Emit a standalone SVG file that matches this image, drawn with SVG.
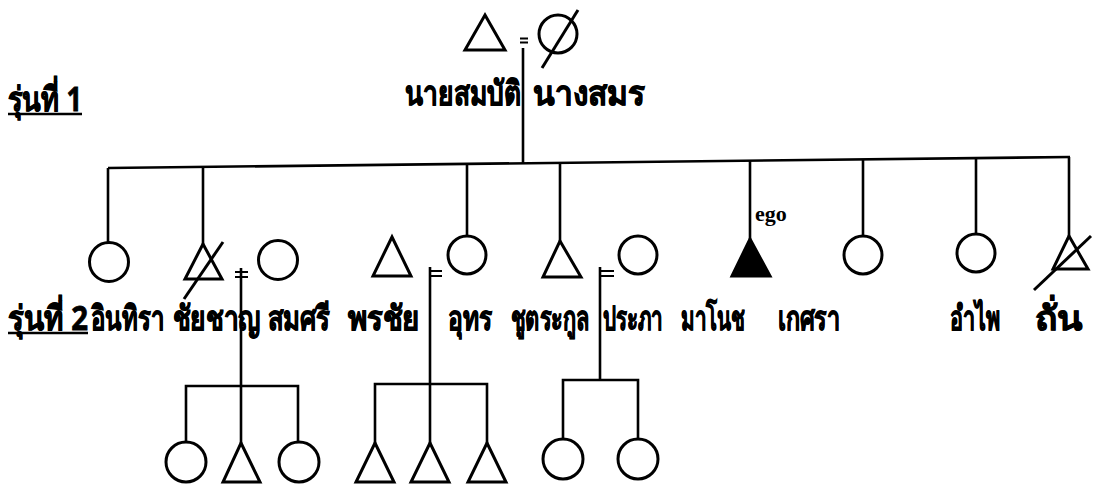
<svg xmlns="http://www.w3.org/2000/svg" width="1093" height="487" viewBox="0 0 1093 487">
<style>
.s{fill:none;stroke:#000;stroke-width:3;stroke-linecap:butt;stroke-linejoin:miter}
.l{fill:none;stroke:#000;stroke-width:2.6}
.m{stroke:#000;stroke-width:2}
.f{fill:#000;stroke:#000;stroke-width:3}
.t{font-family:"Noto Sans","DejaVu Sans",sans-serif;font-weight:bold;font-size:26px;fill:#000;stroke:#000;stroke-width:0.6}
.e{font-family:"Liberation Serif",serif;font-weight:bold;font-size:22px;fill:#000}
</style>
<rect width="1093" height="487" fill="#fff"/>
<g id="connectors">
<line class="l" x1="108" y1="168" x2="1070" y2="157"/>
<line class="l" x1="523" y1="48" x2="523" y2="163"/>
<line class="m" x1="520" y1="38.5" x2="528" y2="38.5"/>
<line class="m" x1="520" y1="42.5" x2="528" y2="42.5"/>
<line class="l" x1="108" y1="168" x2="108" y2="243"/>
<line class="l" x1="203" y1="167" x2="203" y2="244"/>
<line class="l" x1="467" y1="164" x2="467" y2="236"/>
<line class="l" x1="560" y1="163" x2="560" y2="241"/>
<line class="l" x1="750" y1="161" x2="750" y2="239"/>
<line class="l" x1="863" y1="159" x2="863" y2="236"/>
<line class="l" x1="976" y1="158" x2="976" y2="234"/>
<line class="l" x1="1069" y1="157" x2="1069" y2="236"/>
<line class="l" x1="241" y1="268" x2="241" y2="386"/>
<line class="m" x1="235" y1="272" x2="248" y2="272"/>
<line class="m" x1="235" y1="277" x2="248" y2="277"/>
<polyline class="l" points="186,442 186,386 298,386 298,442"/>
<line class="l" x1="241" y1="386" x2="241" y2="443"/>
<line class="l" x1="430" y1="267" x2="430" y2="384"/>
<line class="m" x1="430" y1="271" x2="442" y2="271"/>
<line class="m" x1="430" y1="276" x2="442" y2="276"/>
<polyline class="l" points="375,443 375,384 487,384 487,443"/>
<line class="l" x1="430" y1="384" x2="430" y2="443"/>
<line class="l" x1="600" y1="267" x2="600" y2="380"/>
<line class="m" x1="600" y1="271" x2="614" y2="271"/>
<line class="m" x1="600" y1="276" x2="614" y2="276"/>
<polyline class="l" points="563,439 563,380 638,380 638,439"/>
</g>
<g id="father"><polygon class="s" points="485,15 505,50 465,50"/></g>
<g id="mother"><circle class="s" cx="558" cy="34" r="19"/><line class="s" x1="578" y1="10" x2="542" y2="68"/></g>
<g id="gen1-label">
<text class="t" transform="translate(405,105) scale(1,1.3)" textLength="116" lengthAdjust="spacingAndGlyphs">นายสมบัติ</text>
<text class="t" transform="translate(533,105) scale(1,1.3)" textLength="112" lengthAdjust="spacingAndGlyphs">นางสมร</text>
</g>
<g id="gen1"><text class="t" transform="translate(8,111) scale(1,1.3)" textLength="74" lengthAdjust="spacingAndGlyphs">รุ่นที่ 1</text><line x1="8" y1="114" x2="82" y2="114" stroke="#000" stroke-width="2.5"/></g>
<g id="intira"><circle class="s" cx="109" cy="262" r="19.5"/></g>
<g id="chaichan"><polygon class="s" points="203,244 222,279 185,279"/><line class="s" x1="223" y1="242" x2="184" y2="299"/></g>
<g id="somsri"><circle class="s" cx="278" cy="260" r="19.5"/></g>
<g id="pornchai"><polygon class="s" points="392,237 411,276 373,276"/></g>
<g id="uthorn"><circle class="s" cx="467" cy="255" r="19"/></g>
<g id="chutrakul"><polygon class="s" points="560,241 581,277 543,277"/></g>
<g id="prapa"><circle class="s" cx="638" cy="255" r="19"/></g>
<g id="manot"><polygon class="f" points="750,239 770,276 732,276"/><text class="e" x="755" y="221">ego</text></g>
<g id="ketsara"><circle class="s" cx="863" cy="255" r="19"/></g>
<g id="amphai"><circle class="s" cx="976" cy="253" r="19"/></g>
<g id="than"><polygon class="s" points="1069,236 1088,269 1053,269"/><line class="s" x1="1091" y1="236" x2="1034" y2="290"/></g>
<g id="c1"><circle class="s" cx="186" cy="462" r="20"/></g>
<g id="c2"><polygon class="s" points="241,443 260,482 223,482"/></g>
<g id="c3"><circle class="s" cx="299" cy="462" r="20"/></g>
<g id="c4"><polygon class="s" points="375,443 394,482 356,482"/></g>
<g id="c5"><polygon class="s" points="430,443 449,482 411,482"/></g>
<g id="c6"><polygon class="s" points="487,443 506,482 468,482"/></g>
<g id="c7"><circle class="s" cx="563" cy="459" r="20"/></g>
<g id="c8"><circle class="s" cx="638" cy="459" r="20"/></g>
<g id="gen2">
<text class="t" transform="translate(8,330) scale(1,1.3)" textLength="80" lengthAdjust="spacingAndGlyphs">รุ่นที่ 2</text><line x1="8" y1="333" x2="88" y2="333" stroke="#000" stroke-width="2.5"/>
<text class="t" transform="translate(91,330) scale(1,1.3)" textLength="73" lengthAdjust="spacingAndGlyphs">อินทิรา</text>
<text class="t" transform="translate(173,330) scale(1,1.3)" textLength="88" lengthAdjust="spacingAndGlyphs">ชัยชาญ</text>
<text class="t" transform="translate(268,330) scale(1,1.3)" textLength="62" lengthAdjust="spacingAndGlyphs">สมศรี</text>
<text class="t" transform="translate(348,330) scale(1,1.3)" textLength="72" lengthAdjust="spacingAndGlyphs">พรชัย</text>
<text class="t" transform="translate(448,330) scale(1,1.3)" textLength="44" lengthAdjust="spacingAndGlyphs">อุทร</text>
<text class="t" transform="translate(511,330) scale(1,1.3)" textLength="78" lengthAdjust="spacingAndGlyphs">ชูตระกูล</text>
<text class="t" transform="translate(603,330) scale(1,1.3)" textLength="60" lengthAdjust="spacingAndGlyphs">ประภา</text>
<text class="t" transform="translate(681,330) scale(1,1.3)" textLength="64" lengthAdjust="spacingAndGlyphs">มาโนช</text>
<text class="t" transform="translate(778,330) scale(1,1.3)" textLength="62" lengthAdjust="spacingAndGlyphs">เกศรา</text>
<text class="t" transform="translate(950,330) scale(1,1.3)" textLength="50" lengthAdjust="spacingAndGlyphs">อำไพ</text>
<text class="t" transform="translate(1035,330) scale(1,1.3)" textLength="48" lengthAdjust="spacingAndGlyphs">ถั่น</text>
</g>
</svg>
